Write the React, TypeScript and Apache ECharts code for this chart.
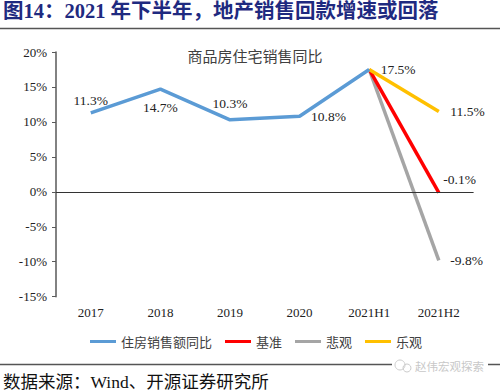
import React, { useEffect, useRef } from "react";
import * as echarts from "echarts";

const categories = ["2017", "2018", "2019", "2020", "2021H1", "2021H2"];
const salesYoY = [11.3, 14.7, 10.3, 10.8, 17.5, null];
const baseCase = [null, null, null, null, 17.5, -0.1];
const bearCase = [null, null, null, null, 17.5, -9.8];
const bullCase = [null, null, null, null, 17.5, 11.5];
const seriesNames = ["住房销售额同比", "基准", "悲观", "乐观"];
const seriesColors = ["#5B9BD5", "#FF0000", "#A5A5A5", "#FFC000"];
const yTicks = { min: -15, max: 20, interval: 5 };

const SERIF = "'Liberation Serif', 'Times New Roman', serif";
const CJK = "'Noto Sans CJK SC', sans-serif";

const labelBase = {
  show: true,
  fontFamily: SERIF,
  fontSize: 13.5,
  color: "#222",
  opacity: 1,
  formatter: (p: any) => Number(p.value).toFixed(1) + "%",
};

// per-point label placement (style only)
const blueLabelStyle = [
  { position: "top", distance: 5, offset: [-2, 0] },
  { position: "bottom", distance: 11, offset: [3, 0] },
  { position: "top", distance: 9, offset: [3, 0] },
  { position: "right", distance: 11, offset: [0, 1] },
  { position: "right", distance: 11, offset: [0, 0] },
  null,
];

function withLabels(values: (number | null)[], styles: any[]) {
  return values.map((v, i) => {
    if (v === null) return null;
    const s = styles[i];
    if (!s) return { value: v, label: { show: false } };
    return { value: v, label: { ...labelBase, ...s } };
  });
}

export default function App() {
  const ref = useRef<HTMLDivElement>(null);
  useEffect(() => {
    if (!ref.current) return;
    const chart = echarts.init(ref.current, null, { renderer: "svg" });
    const lineSeries = (idx: number, data: any[], z: number) => ({
      name: seriesNames[idx],
      type: "line",
      data,
      symbol: "circle",
      symbolSize: 1,
      showSymbol: true,
      showAllSymbol: true,
      connectNulls: false,
      z,
      lineStyle: { color: seriesColors[idx], width: 3.5 },
      itemStyle: { color: "rgba(0,0,0,0)", borderWidth: 0 },
      label: { show: true, ...labelBase },
      labelLayout: { hideOverlap: false },
    });
    chart.setOption({
      animation: false,
      backgroundColor: "#fff",
      grid: { left: 56, right: 26.4, top: 52, bottom: 94.3 },
      xAxis: {
        type: "category",
        data: categories,
        boundaryGap: true,
        axisLine: { show: false },
        axisTick: { show: false },
        axisLabel: { fontFamily: SERIF, fontSize: 13, color: "#222", margin: 9 },
      },
      yAxis: {
        type: "value",
        min: yTicks.min,
        max: yTicks.max,
        interval: yTicks.interval,
        axisLine: { show: true, lineStyle: { color: "#595959", width: 1.5 } },
        axisTick: { show: true, length: 4, inside: false, lineStyle: { color: "#595959" } },
        splitLine: { show: false },
        axisLabel: {
          fontFamily: SERIF,
          fontSize: 13,
          color: "#222",
          margin: 9,
          formatter: (v: number) => v + "%",
        },
      },
      legend: {
        data: seriesNames.map((n, i) => ({ name: n, itemStyle: { color: seriesColors[i], opacity: 1 } })),
        left: 85,
        top: 330,
        icon: "rect",
        itemWidth: 26,
        itemHeight: 3,
        itemGap: 13,
        textStyle: { fontFamily: CJK, fontSize: 13, color: "#404040" },
      },
      series: [
        {
          ...lineSeries(0, withLabels(salesYoY, blueLabelStyle), 5),
          markLine: {
            silent: true,
            symbol: "none",
            label: { show: false },
            lineStyle: { color: "#333", width: 1.2, type: "solid" },
            data: [{ yAxis: 0 }],
          },
        },
        lineSeries(
          1,
          withLabels(baseCase, [null, null, null, null, null, { position: [5, -20] }]),
          3
        ),
        lineSeries(
          2,
          withLabels(bearCase, [null, null, null, null, null, { position: "right", distance: 11 }]),
          2
        ),
        lineSeries(
          3,
          withLabels(bullCase, [null, null, null, null, null, { position: "right", distance: 11 }]),
          4
        ),
      ],
      graphic: [
        {
          type: "text",
          left: 3,
          top: 1,
          style: {
            text: "图14：2021 年下半年，地产销售回款增速或回落",
            fontFamily: SERIF + ", " + CJK,
            fontWeight: "bold",
            fontSize: 20.5,
            fill: "#1F2A80",
          },
        },
        {
          type: "line",
          shape: { x1: 0, y1: 28.5, x2: 500, y2: 28.5 },
          style: { stroke: "#555", lineWidth: 1.5 },
        },
        {
          type: "text",
          x: 255,
          y: 55,
          style: {
            text: "商品房住宅销售同比",
            fontFamily: CJK,
            fontSize: 15,
            fill: "#404040",
            align: "center",
            verticalAlign: "middle",
          },
        },
        {
          type: "line",
          shape: { x1: 0, y1: 364.5, x2: 500, y2: 364.5 },
          style: { stroke: "#555", lineWidth: 1.5 },
        },
        {
          type: "text",
          x: 3,
          y: 382,
          style: {
            text: "数据来源：Wind、开源证券研究所",
            fontFamily: SERIF + ", " + CJK,
            fontSize: 17.5,
            fill: "#111",
            verticalAlign: "middle",
          },
        },
        {
          type: "rect",
          shape: { x: 392, y: 357, width: 96, height: 18 },
          style: { fill: "#fff" },
        },
        {
          type: "circle",
          shape: { cx: 400, cy: 365, r: 5 },
          style: { fill: "none", stroke: "#ccc", lineWidth: 1 },
        },
        {
          type: "circle",
          shape: { cx: 407, cy: 368, r: 4 },
          style: { fill: "none", stroke: "#ccc", lineWidth: 1 },
        },
        {
          type: "text",
          x: 415,
          y: 366,
          style: {
            text: "赵伟宏观探索",
            fontFamily: CJK,
            fontSize: 11.5,
            fill: "#c8c8c8",
            verticalAlign: "middle",
          },
        },
      ],
    });
    return () => chart.dispose();
  }, []);
  return (
    <div
      ref={ref}
      style={{ position: "fixed", left: 0, top: 0, width: 500, height: 391, background: "#fff" }}
    />
  );
}
